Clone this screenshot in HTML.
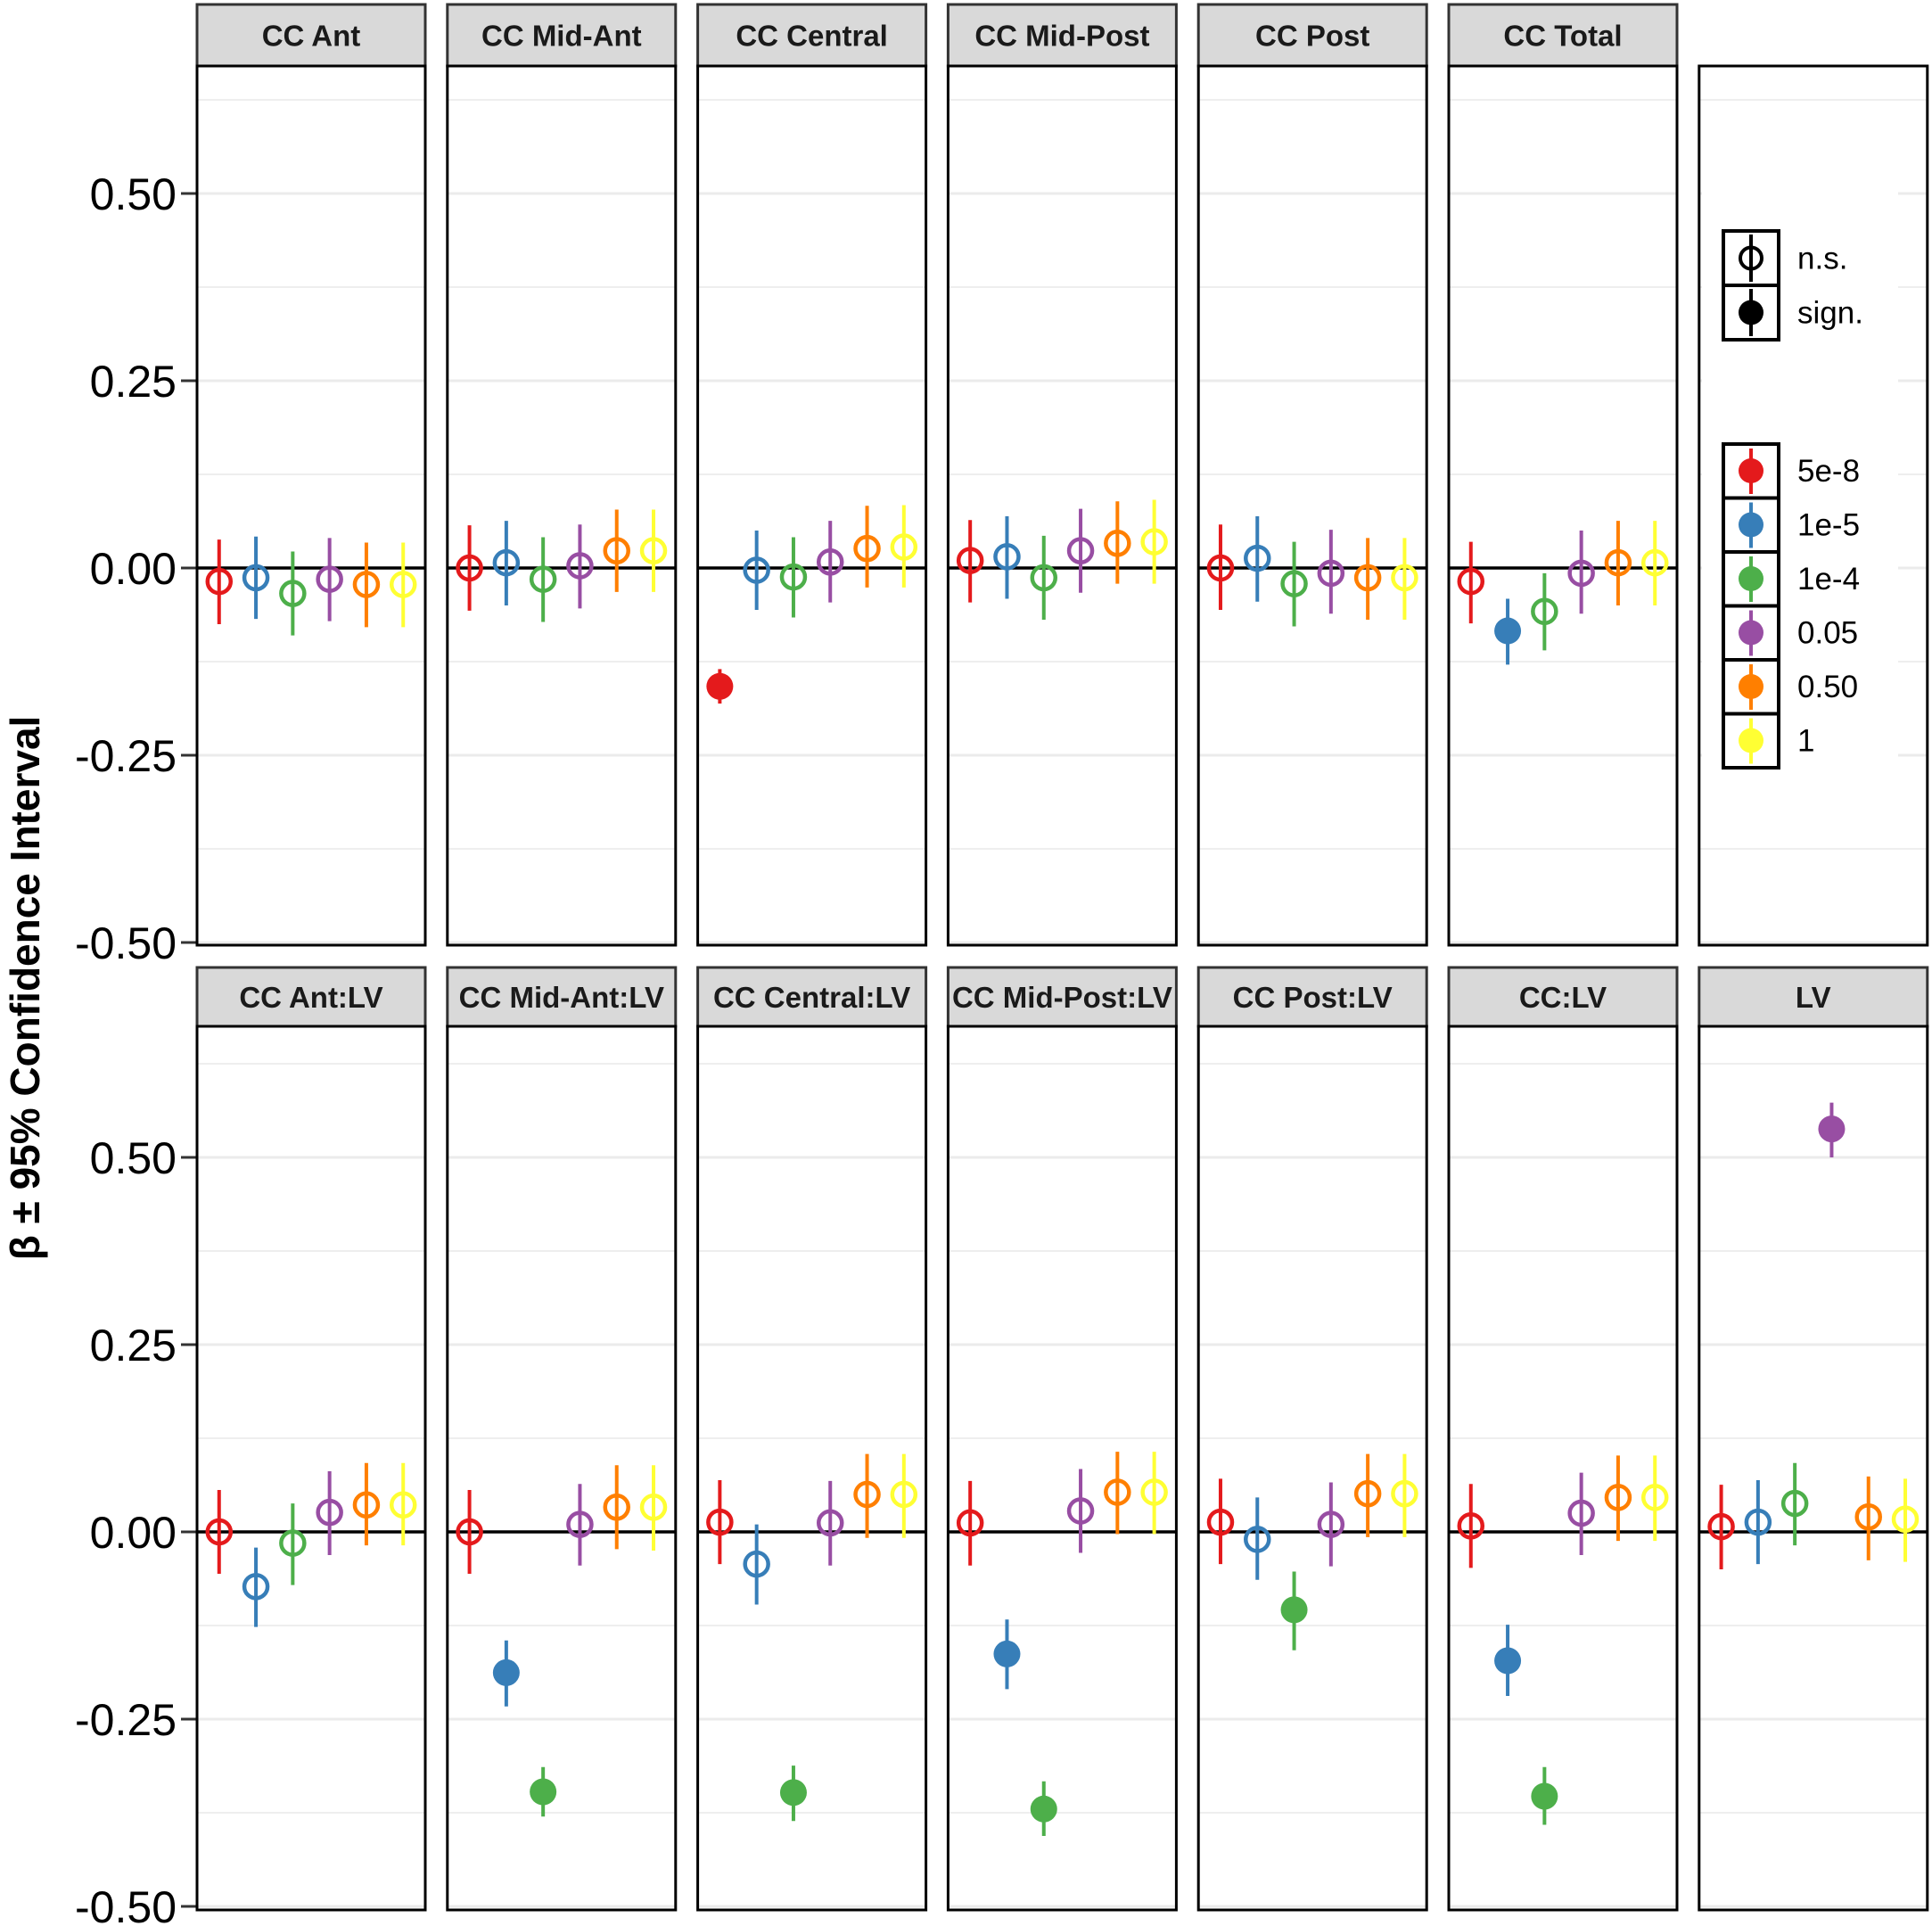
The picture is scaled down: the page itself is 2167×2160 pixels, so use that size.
<!DOCTYPE html>
<html><head><meta charset="utf-8"><style>
html,body{margin:0;padding:0;background:#fff;}
svg{display:block;font-family:"Liberation Sans",sans-serif;}
</style></head><body>
<svg id="chart" width="2167" height="2160" viewBox="0 0 2167 2160" xmlns="http://www.w3.org/2000/svg"></svg>
<script>
const panelNames = ["CC Ant","CC Mid-Ant","CC Central","CC Mid-Post","CC Post","CC Total",
  "CC Ant:LV","CC Mid-Ant:LV","CC Central:LV","CC Mid-Post:LV","CC Post:LV","CC:LV","LV"];
const thresholds = ["5e-8","1e-5","1e-4","0.05","0.50","1"];
const colors = ["#E41A1C","#377EB8","#4DAF4A","#984EA3","#FF7F00","#FFFF33"];
const yTicks = [0.5,0.25,0,-0.25,-0.5];
const yTickLabels = ["0.50","0.25","0.00","-0.25","-0.50"];
const yMinor = [0.625,0.375,0.125,-0.125,-0.375];
const betas = [
 [-0.018,-0.013,-0.034,-0.015,-0.022,-0.022],
 [0.0,0.007,-0.015,0.003,0.023,0.023],
 [-0.158,-0.003,-0.012,0.008,0.026,0.028],
 [0.010,0.015,-0.013,0.023,0.033,0.035],
 [0.0,0.013,-0.021,-0.007,-0.013,-0.013],
 [-0.018,-0.084,-0.058,-0.007,0.007,0.007],
 [0.0,-0.073,-0.015,0.026,0.036,0.036],
 [0.0,-0.188,-0.347,0.010,0.033,0.033],
 [0.013,-0.043,-0.348,0.012,0.050,0.050],
 [0.012,-0.163,-0.370,0.028,0.053,0.053],
 [0.013,-0.010,-0.104,0.010,0.051,0.051],
 [0.008,-0.172,-0.353,0.025,0.046,0.046],
 [0.007,0.013,0.038,0.538,0.020,0.017]];
const lows = [
 [-0.075,-0.068,-0.090,-0.071,-0.079,-0.079],
 [-0.057,-0.050,-0.072,-0.054,-0.032,-0.032],
 [-0.181,-0.056,-0.066,-0.046,-0.026,-0.026],
 [-0.046,-0.041,-0.069,-0.033,-0.021,-0.021],
 [-0.056,-0.045,-0.078,-0.061,-0.069,-0.069],
 [-0.074,-0.129,-0.110,-0.061,-0.050,-0.050],
 [-0.056,-0.127,-0.071,-0.031,-0.018,-0.018],
 [-0.056,-0.233,-0.380,-0.045,-0.023,-0.025],
 [-0.043,-0.097,-0.386,-0.045,-0.008,-0.008],
 [-0.045,-0.210,-0.406,-0.028,-0.003,-0.003],
 [-0.043,-0.064,-0.158,-0.046,-0.007,-0.007],
 [-0.048,-0.219,-0.391,-0.031,-0.012,-0.012],
 [-0.050,-0.043,-0.018,0.500,-0.038,-0.040]];
const highs = [
 [0.038,0.042,0.022,0.040,0.034,0.034],
 [0.057,0.063,0.041,0.058,0.078,0.078],
 [-0.135,0.050,0.041,0.063,0.083,0.084],
 [0.064,0.069,0.043,0.079,0.089,0.091],
 [0.058,0.069,0.035,0.051,0.040,0.040],
 [0.035,-0.041,-0.007,0.050,0.063,0.063],
 [0.056,-0.021,0.038,0.081,0.092,0.092],
 [0.056,-0.145,-0.314,0.064,0.089,0.089],
 [0.069,0.010,-0.312,0.068,0.104,0.104],
 [0.068,-0.117,-0.333,0.084,0.107,0.107],
 [0.071,0.046,-0.053,0.066,0.104,0.104],
 [0.064,-0.124,-0.314,0.079,0.102,0.102],
 [0.063,0.069,0.092,0.573,0.074,0.071]];
const significant = [
 [0,0,0,0,0,0],[0,0,0,0,0,0],[1,0,0,0,0,0],[0,0,0,0,0,0],[0,0,0,0,0,0],[0,1,0,0,0,0],
 [0,0,0,0,0,0],[0,1,1,0,0,0],[0,0,1,0,0,0],[0,1,1,0,0,0],[0,0,1,0,0,0],[0,1,1,0,0,0],[0,0,0,1,0,0]];

const NS="http://www.w3.org/2000/svg";
const svg=document.getElementById('chart');
function mk(tag,attrs,parent,text){const e=document.createElementNS(NS,tag);for(const k in attrs)e.setAttribute(k,attrs[k]);if(text!==undefined)e.textContent=text;(parent||svg).appendChild(e);return e;}
const PX0=221, PITCH=280.8, PW=256;
const rowZero=[637,1718], rowTop=[74,1151], rowBot=[1060,2142], stripTop=[5,1085];
const UNIT=840;
function yScale(row,v){return rowZero[row]-v*UNIT;}
function xScale(px,i){const s=PW/6.2;return px+0.6*s+i*s;}

const yt=mk('text',{x:0,y:0,transform:'translate(44,1108) rotate(-90)','text-anchor':'middle','font-size':'46','font-weight':'bold',fill:'#000'});


yt.textContent='β ± 95% Confidence Interval';

for(let row=0;row<2;row++){
  yTicks.forEach((t,k)=>{
    const y=yScale(row,t);
    const tk=mk('line',{x1:203,x2:221,y1:y,y2:y,stroke:'#333','stroke-width':3});
    
    
    const tl=mk('text',{x:198,y:y+18,'text-anchor':'end','font-size':'50',fill:'#000'},svg,yTickLabels[k]);
    
    
  });
}

for(let p=0;p<14;p++){
  const row=p<7?0:1, col=p%7;
  const px=PX0+col*PITCH;
  const g=mk('g',{});
  
  
  const top=rowTop[row], bot=rowBot[row];
  mk('rect',{x:px,y:top,width:PW,height:bot-top,fill:'#fff'},g);
  yMinor.forEach(t=>{const y=yScale(row,t);const l=mk('line',{x1:px,x2:px+PW,y1:y,y2:y,stroke:'#eeeeee','stroke-width':2},g);});
  yTicks.forEach(t=>{const y=yScale(row,t);const l=mk('line',{x1:px,x2:px+PW,y1:y,y2:y,stroke:'#ebebeb','stroke-width':3},g);});
  if(p===6){
    mk('rect',{x:1909,y:190,width:220,height:695,fill:'#fff'},g);
    const lg=mk('g',{},g);
    
    
    const shapes=[{lab:'n.s.',open:true},{lab:'sign.',open:false}];
    shapes.forEach((s,k)=>{
      const y0=259+k*61, cx=1964, cy=y0+30.5;
      mk('rect',{x:1933,y:y0,width:62,height:61,fill:'#fff',stroke:'#000','stroke-width':4},lg);
      mk('line',{x1:cx,x2:cx,y1:y0+4,y2:y0+57,stroke:'#000','stroke-width':4},lg);
      mk('circle',{cx:cx,cy:cy,r:s.open?12:14,fill:s.open?'none':'#000',stroke:'#000','stroke-width':s.open?4:0},lg);
      const t=mk('text',{x:2016,y:cy+12,'font-size':'35',fill:'#000'},lg,s.lab);
      
      
    });
    thresholds.forEach((th,k)=>{
      const y0=498+k*60.5, cx=1964, cy=y0+30;
      mk('rect',{x:1933,y:y0,width:62,height:60.5,fill:'#fff',stroke:'#000','stroke-width':4},lg);
      mk('line',{x1:cx,x2:cx,y1:y0+5,y2:y0+56,stroke:colors[k],'stroke-width':4},lg);
      mk('circle',{cx:cx,cy:cy,r:14,fill:colors[k]},lg);
      const t=mk('text',{x:2016,y:cy+12,'font-size':'35',fill:'#000'},lg,th);
      
      
    });
    mk('rect',{x:px,y:top,width:PW,height:bot-top,fill:'none',stroke:'#000','stroke-width':3},g);
    continue;
  }
  const di=p<6?p:p-1;
  const st=mk('rect',{x:px,y:stripTop[row],width:PW,height:top-stripTop[row],fill:'#d9d9d9',stroke:'#333','stroke-width':3},g);
  
  
  const stt=mk('text',{x:px+PW/2,y:(stripTop[row]+top)/2+12,'text-anchor':'middle','font-size':'33','font-weight':'bold',fill:'#1a1a1a'},g,panelNames[di]);
  
  
  const z=mk('line',{x1:px,x2:px+PW,y1:yScale(row,0),y2:yScale(row,0),stroke:'#000','stroke-width':3.5},g);
  
  
  for(let i=0;i<6;i++){
    const x=xScale(px,i);
    const eb=mk('line',{x1:x,x2:x,y1:yScale(row,highs[di][i]),y2:yScale(row,lows[di][i]),stroke:colors[i],'stroke-width':4},g);
    
    
    const sig=significant[di][i];
    const c=mk('circle',{cx:x,cy:yScale(row,betas[di][i]),r:sig?15:13,fill:sig?colors[i]:'none',stroke:colors[i],'stroke-width':sig?0:4.5},g);
    
    
  }
  mk('rect',{x:px,y:top,width:PW,height:bot-top,fill:'none',stroke:'#000','stroke-width':3},g);
}
</script>
</body></html>
